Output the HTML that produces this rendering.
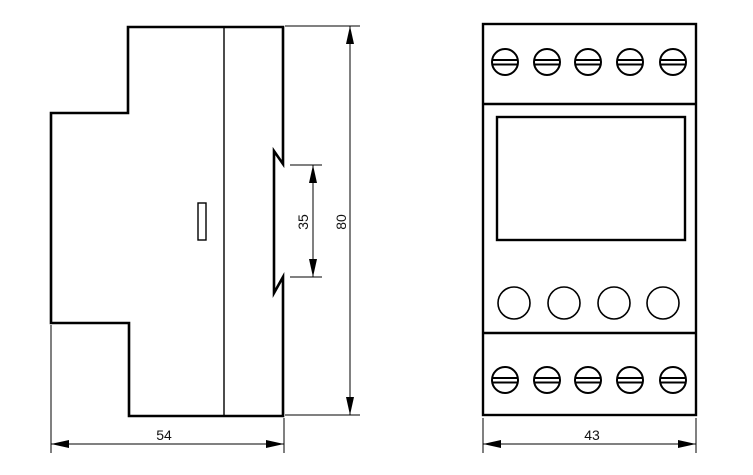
<!DOCTYPE html>
<html><head><meta charset="utf-8"><style>
html,body{margin:0;padding:0;background:#fff;}
svg{display:block;}
text{font-family:"Liberation Sans",Arial,sans-serif;font-size:14px;fill:#111;}
</style></head><body>
<svg width="753" height="475" viewBox="0 0 753 475" xmlns="http://www.w3.org/2000/svg">
<defs>
<marker id="a" viewBox="0 0 18 8" refX="18" refY="4" markerWidth="18" markerHeight="8" markerUnits="userSpaceOnUse" orient="auto-start-reverse"><path d="M0,0 L18,4 L0,8 z" fill="#000"/></marker>
</defs>
<g fill="none" stroke="#000" stroke-width="2.6" stroke-linejoin="miter">
<path d="M128,27 L283,27 L283,164 L274,151 L274,293 L283,277 L283,416 L129,416 L129,323 L51,323 L51,113 L128,113 Z"/>
</g>
<line x1="224" y1="27" x2="224" y2="416" stroke="#000" stroke-width="1.4"/>
<rect x="198" y="203" width="8" height="37" fill="none" stroke="#000" stroke-width="1.4"/>
<g stroke="#000" stroke-width="1">
<line x1="290" y1="165" x2="322" y2="165"/>
<line x1="290" y1="277" x2="322" y2="277"/>
<line x1="313" y1="165" x2="313" y2="277" marker-start="url(#a)" marker-end="url(#a)"/>
<line x1="285" y1="26" x2="360" y2="26"/>
<line x1="285" y1="415" x2="360" y2="415"/>
<line x1="350" y1="26" x2="350" y2="415" marker-start="url(#a)" marker-end="url(#a)"/>
<line x1="51" y1="325" x2="51" y2="453"/>
<line x1="284" y1="418" x2="284" y2="453"/>
<line x1="51" y1="444" x2="284" y2="444" marker-start="url(#a)" marker-end="url(#a)"/>
<line x1="483" y1="418" x2="483" y2="453"/>
<line x1="696" y1="418" x2="696" y2="453"/>
<line x1="483" y1="444" x2="696" y2="444" marker-start="url(#a)" marker-end="url(#a)"/>
</g>
<text x="303" y="222" text-anchor="middle" transform="rotate(-90 303 222)" dy="5">35</text>
<text x="341" y="222" text-anchor="middle" transform="rotate(-90 341 222)" dy="5">80</text>
<text x="164" y="440" text-anchor="middle">54</text>
<text x="592" y="440" text-anchor="middle">43</text>
<g fill="none" stroke="#000" stroke-width="2.4">
<rect x="483" y="24" width="213" height="391"/>
<line x1="483" y1="104" x2="696" y2="104"/>
<line x1="483" y1="333" x2="696" y2="333"/>
<rect x="497" y="117" width="188" height="123"/>
</g>
<g fill="none" stroke="#000" stroke-width="1.6">
<circle cx="514" cy="303" r="16"/><circle cx="564" cy="303" r="16"/><circle cx="614" cy="303" r="16"/><circle cx="663" cy="303" r="16"/>
</g>
<g fill="none" stroke="#000" stroke-width="2">
<g id="s">
<circle cx="505" cy="62" r="13"/><line x1="492" y1="60" x2="518" y2="60"/><line x1="492" y1="64.5" x2="518" y2="64.5"/>
</g>
<use href="#s" x="42"/><use href="#s" x="83"/><use href="#s" x="125"/><use href="#s" x="168"/>
<use href="#s" y="318"/><use href="#s" x="42" y="318"/><use href="#s" x="83" y="318"/><use href="#s" x="125" y="318"/><use href="#s" x="168" y="318"/>
</g>
</svg>
</body></html>
